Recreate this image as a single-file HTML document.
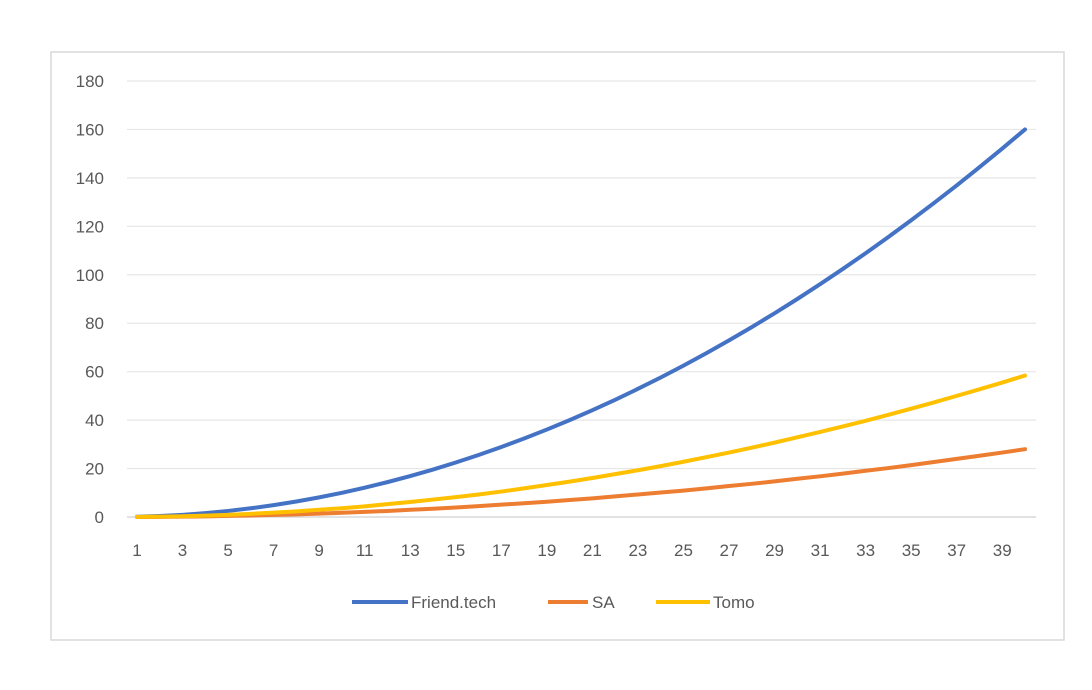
<!DOCTYPE html>
<html><head><meta charset="utf-8"><style>
body{margin:0;background:#fff;font-family:"Liberation Sans",Arial,sans-serif}
svg text{fill:#595959;font-size:17px}
</style></head><body>
<svg id="c" width="1092" height="685">
<rect x="51" y="52" width="1013" height="588" fill="#fff" stroke="#d9d9d9" stroke-width="1.5"/>
<g id="grid"></g><g id="lines"></g>
<g>
<line x1="352" y1="602" x2="408" y2="602" stroke="#4472C4" stroke-width="4"/>
<text x="411" y="608">Friend.tech</text>
<line x1="548" y1="602" x2="588" y2="602" stroke="#ED7D31" stroke-width="4"/>
<text x="592" y="608">SA</text>
<line x1="656" y1="602" x2="710" y2="602" stroke="#FFC000" stroke-width="4"/>
<text x="713" y="608">Tomo</text>
</g>
</svg>
<script>
const friend=[0.1,0.4,0.9,1.6,2.5,3.6,4.9,6.4,8.1,10,12.1,14.4,16.9,19.6,22.5,25.6,28.9,32.4,36.1,40,44.1,48.4,52.9,57.6,62.5,67.6,72.9,78.4,84.1,90,96.1,102.4,108.9,115.6,122.5,129.6,136.9,144.4,152.1,160];
const sa=[0.02,0.07,0.16,0.28,0.44,0.63,0.86,1.1,1.4,1.75,2.1,2.5,3,3.4,3.9,4.5,5.1,5.7,6.3,7,7.7,8.5,9.3,10.1,10.9,11.8,12.8,13.7,14.7,15.8,16.8,17.9,19.1,20.2,21.4,22.7,24,25.3,26.6,28];
const tomo=[0.04,0.15,0.33,0.58,0.9,1.3,1.8,2.3,3,3.6,4.4,5.3,6.2,7.2,8.2,9.3,10.5,11.8,13.2,14.6,16.1,17.7,19.3,21,22.8,24.7,26.6,28.6,30.7,32.9,35.1,37.4,39.7,42.2,44.7,47.3,50,52.7,55.5,58.4];
const yTicks=[0,20,40,60,80,100,120,140,160,180];
const NS="http://www.w3.org/2000/svg";
const xs=i=>137+i*(1025-137)/39;
const ys=v=>517-v*(517-81)/180;
const grid=document.getElementById('grid'),lines=document.getElementById('lines');
function mk(t,a,p){const e=document.createElementNS(NS,t);for(const k in a)e.setAttribute(k,a[k]);p.appendChild(e);return e;}
yTicks.forEach(v=>{
 const l=mk('line',{x1:127,x2:1036,y1:ys(v),y2:ys(v),stroke:v===0?'#d0d0d0':'#e6e6e6','stroke-width':1.2},grid);
 
 
 const t=mk('text',{x:104,y:ys(v)+6,'text-anchor':'end'},grid);t.textContent=v;
 
 
});
for(let i=0;i<40;i+=2){
 const t=mk('text',{x:xs(i),y:556,'text-anchor':'middle'},grid);t.textContent=i+1;
 
 
}
[[friend,'#4472C4','friendtech'],[sa,'#ED7D31','sa'],[tomo,'#FFC000','tomo']].forEach(([d,c,n])=>{
 const p=mk('polyline',{points:d.map((v,i)=>xs(i)+','+ys(v)).join(' '),fill:'none',stroke:c,'stroke-width':4,'stroke-linejoin':'round','stroke-linecap':'round'},lines);
 
 
});
</script>
</body></html>
